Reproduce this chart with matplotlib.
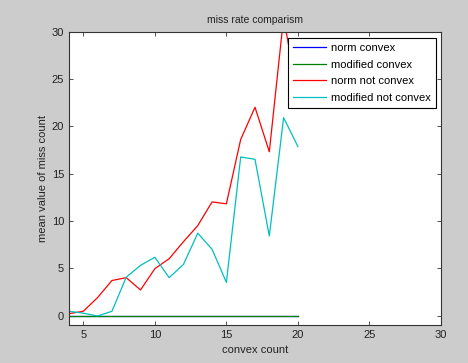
import matplotlib
matplotlib.use("Agg")
import matplotlib.pyplot as plt

plt.rcParams['font.family'] = ['Liberation Sans', 'DejaVu Sans']

convex_count = [4, 5, 6, 7, 8, 9, 10, 11, 12, 13, 14, 15, 16, 17, 18, 19, 20]
norm_convex = [0] * 17
modified_convex = [0] * 17
norm_not_convex = [0.2, 0.45, 1.9, 3.7, 4.0, 2.7, 4.95, 6.0, 7.8, 9.5, 12.0, 11.8, 18.6, 22.0, 17.3, 31.5, 23.0]
modified_not_convex = [0.45, 0.25, -0.05, 0.45, 4.05, 5.3, 6.15, 4.0, 5.4, 8.7, 7.0, 3.5, 16.75, 16.5, 8.4, 20.9, 17.85]

labels = ['norm convex', 'modified convex', 'norm not convex', 'modified not convex']
colors = ['#0000ff', '#008000', '#ff0000', '#00bfbf']

fig = plt.figure(figsize=(4.68, 3.63), dpi=100, facecolor='#cccccc')
ax = fig.add_axes([69/468, 1 - 325/363, (441 - 69)/468, (325 - 31.5)/363])
ax.set_facecolor('white')

for series, lab, c in zip([norm_convex, modified_convex, norm_not_convex, modified_not_convex], labels, colors):
    ax.plot(convex_count, series, color=c, lw=0.9, label=lab)

ax.set_xlim(4, 30)
ax.set_ylim(-1, 30)
ax.set_xticks([5, 10, 15, 20, 25, 30])
ax.set_yticks([0, 5, 10, 15, 20, 25, 30])
ax.tick_params(direction='in', length=3, width=0.6, labelsize=8, top=True, right=True,
               colors='#333333', labelcolor='#222222')
for s in ax.spines.values():
    s.set_linewidth(0.8)
    s.set_color('#333333')

ax.set_title('miss rate comparism', fontsize=7.5, pad=6, color='#222222')
ax.set_xlabel('convex count', fontsize=8, labelpad=4, color='#222222')
ax.set_ylabel('mean value of miss count', fontsize=8, labelpad=3, color='#222222')

leg = ax.legend(loc='upper right', bbox_to_anchor=(0.987, 0.978), fontsize=8, frameon=True,
                fancybox=False, edgecolor='black', framealpha=1, borderpad=0.45,
                handlelength=3.0, labelspacing=0.6, handletextpad=0.45, borderaxespad=0)
leg.get_frame().set_linewidth(0.8)

fig.savefig('out.png', dpi=100, facecolor=fig.get_facecolor())
